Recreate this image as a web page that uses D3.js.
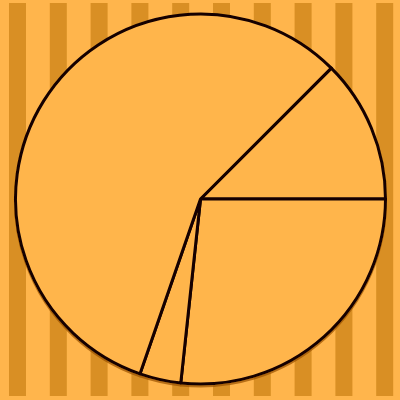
<!DOCTYPE html>
<html><head><meta charset="utf-8">
<script src="https://cdn.jsdelivr.net/npm/d3@7"></script>
<style>html,body{margin:0;padding:0;background:#FFB54C;}</style>
</head><body>
<svg id="c" width="400" height="400"></svg>
<script>
const labels = ["A", "B", "C", "D"];
const values = [12.5, 26.7, 3.6, 57.2];
const stripeIdx = d3.range(10);

const svg = d3.select("#c");
const W = 400, H = 400;
svg.append("rect").attr("width", W).attr("height", H).attr("fill", "#FFB54C");

const xs = d3.scaleLinear().domain([0, 10]).range([9, 417]);
svg.selectAll("rect.stripe").data(stripeIdx).enter().append("rect")
  .attr("class", "stripe")
  .attr("x", d => xs(d)).attr("y", 3)
  .attr("width", 17).attr("height", 393)
  .attr("fill", "#D98F24");

const defs = svg.append("defs");
const f = defs.append("filter").attr("id", "sh").attr("x", "-10%").attr("y", "-10%").attr("width", "120%").attr("height", "120%");
f.append("feDropShadow").attr("dx", 0).attr("dy", 2).attr("stdDeviation", 0.6)
  .attr("flood-color", "#9a5200").attr("flood-opacity", 0.7);

const pie = d3.pie().sort(null).value(d => d).startAngle(Math.PI / 4).endAngle(Math.PI / 4 + 2 * Math.PI);
const arc = d3.arc().innerRadius(0).outerRadius(185);
const g = svg.append("g").attr("transform", "translate(200.5,199)").attr("filter", "url(#sh)");
g.selectAll("path").data(pie(values)).enter().append("path")
  .attr("d", arc)
  .attr("fill", "#FFB54C")
  .attr("stroke", "#140000")
  .attr("stroke-width", 3)
  .attr("stroke-linejoin", "round");
</script>
</body></html>
